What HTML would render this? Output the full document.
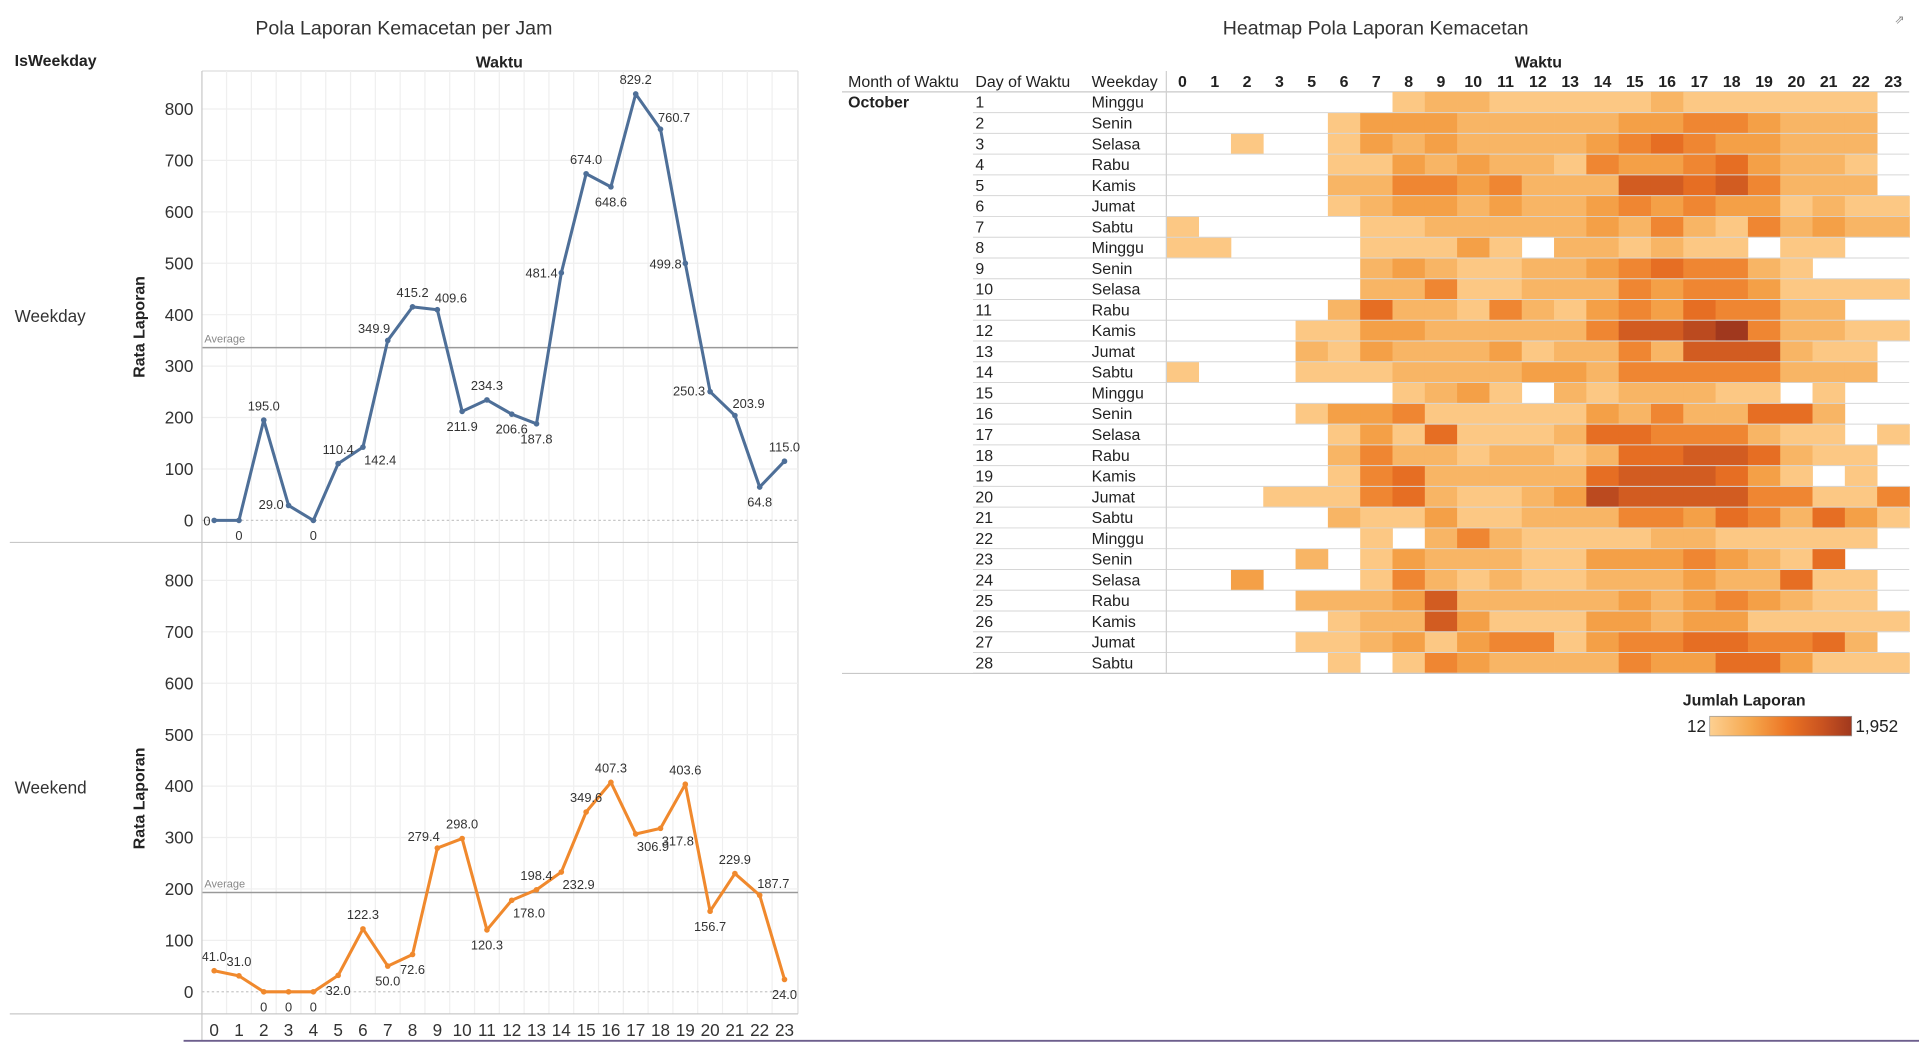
<!DOCTYPE html>
<html><head><meta charset="utf-8">
<style>
html,body{margin:0;padding:0;background:#fff;overflow:hidden}
svg{display:block;font-family:"Liberation Sans",sans-serif}
</style></head>
<body>
<svg id="root" width="1919" height="1042" viewBox="0 0 1568 851" preserveAspectRatio="none" xmlns="http://www.w3.org/2000/svg">
<g id="line"></g>
<g id="heat"></g>
</svg>
<script>
// ---------- line chart data ----------
const hours = [0,1,2,3,4,5,6,7,8,9,10,11,12,13,14,15,16,17,18,19,20,21,22,23];
const weekdayVals = [0,0,195.0,29.0,0,110.4,142.4,349.9,415.2,409.6,211.9,234.3,206.6,187.8,481.4,674.0,648.6,829.2,760.7,499.8,250.3,203.9,64.8,115.0];
const weekendVals = [41.0,31.0,0,0,0,32.0,122.3,50.0,72.6,279.4,298.0,120.3,178.0,198.4,232.9,349.6,407.3,306.9,317.8,403.6,156.7,229.9,187.7,24.0];
const weekdayLabelPos = ['l','b','a','bl','b','a','br','al','a','ar','b','a','b','b','l','a','b','a','ar','l','bl','ar','b','a'];
const weekendLabelPos = ['a','a','b','b','b','b','a','b','b','al','a','b','br','a','br','a','a','br','br','a','b','a','ar','b'];
const yTicks = [0,100,200,300,400,500,600,700,800];
const weekdayAvg = 336;
const weekendAvg = 193;

// ---------- heatmap data ----------
const hmHours = [0,1,2,3,5,6,7,8,9,10,11,12,13,14,15,16,17,18,19,20,21,22,23];
const hmDays = [1,2,3,4,5,6,7,8,9,10,11,12,13,14,15,16,17,18,19,20,21,22,23,24,25,26,27,28];
const hmWeekdays = ['Minggu','Senin','Selasa','Rabu','Kamis','Jumat','Sabtu','Minggu','Senin','Selasa','Rabu','Kamis','Jumat','Sabtu','Minggu','Senin','Selasa','Rabu','Kamis','Jumat','Sabtu','Minggu','Senin','Selasa','Rabu','Kamis','Jumat','Sabtu'];
// intensity levels (0 = no data, 1..8 light..dark)
const hmLevels = [
[0,0,0,0,0,0,0,1,2,2,1,1,1,1,1,2,1,1,1,1,1,1,0],
[0,0,0,0,0,1,3,3,3,2,2,2,2,2,3,3,4,4,3,2,2,2,0],
[0,0,1,0,0,1,3,2,3,2,2,2,2,3,4,5,4,3,3,2,2,2,0],
[0,0,0,0,0,1,1,3,2,3,2,2,1,4,3,3,4,5,3,2,2,1,0],
[0,0,0,0,0,2,2,4,4,3,4,2,2,2,6,6,5,6,4,2,2,2,0],
[0,0,0,0,0,1,2,3,3,2,3,2,2,3,4,3,4,3,3,1,2,1,1],
[1,0,0,0,0,0,1,1,2,2,2,2,2,3,2,4,2,1,4,2,3,2,2],
[1,1,0,0,0,0,1,1,1,3,1,0,2,2,1,2,1,1,0,1,1,0,0],
[0,0,0,0,0,0,2,3,2,1,1,2,2,3,4,5,4,4,2,1,0,0,0],
[0,0,0,0,0,0,2,2,4,1,1,2,2,2,4,3,4,4,3,1,1,1,1],
[0,0,0,0,0,2,5,2,2,1,4,2,1,3,4,3,5,4,4,2,2,0,0],
[0,0,0,0,1,1,3,3,2,2,2,2,2,4,6,6,7,8,4,2,2,1,1],
[0,0,0,0,2,1,3,2,2,2,3,1,2,2,4,2,6,6,6,2,1,1,0],
[1,0,0,0,1,1,1,2,2,2,2,3,3,2,4,4,4,4,4,2,2,2,0],
[0,0,0,0,0,0,0,1,2,3,1,0,2,1,2,2,2,1,1,0,1,0,0],
[0,0,0,0,1,3,3,4,1,1,1,1,1,3,2,4,2,2,5,5,2,0,0],
[0,0,0,0,0,1,3,1,5,1,1,1,2,5,5,4,4,4,2,1,1,0,1],
[0,0,0,0,0,2,4,2,2,1,2,2,1,2,5,5,6,6,5,2,1,1,0],
[0,0,0,0,0,1,4,5,2,2,2,2,2,5,6,6,6,5,3,1,0,1,0],
[0,0,0,1,1,1,4,5,2,1,1,2,3,7,6,6,6,6,4,4,1,1,4],
[0,0,0,0,0,2,1,1,3,1,1,2,2,2,4,4,3,5,4,2,5,3,1],
[0,0,0,0,0,0,1,0,2,4,2,1,1,1,1,2,2,1,1,1,1,1,0],
[0,0,0,0,2,0,1,3,2,2,2,1,1,3,3,3,4,3,2,1,5,0,0],
[0,0,3,0,0,0,1,4,2,1,2,1,1,2,2,2,3,2,2,5,1,1,0],
[0,0,0,0,2,2,2,3,6,2,2,2,2,2,3,2,3,4,3,2,1,1,0],
[0,0,0,0,0,1,2,2,6,3,1,1,1,3,3,2,3,3,1,1,1,1,1],
[0,0,0,0,1,1,2,3,1,3,4,4,1,3,4,4,5,5,4,4,5,2,0],
[0,0,0,0,0,1,0,1,4,3,2,2,2,2,4,3,3,5,5,3,1,1,1]
];
const legendMin = 12, legendMax = 1952;

const NS = 'http://www.w3.org/2000/svg';
function mk(parent, tag, attrs, text){
  const e = document.createElementNS(NS, tag);
  for (const k in attrs) e.setAttribute(k, attrs[k]);
  if (text !== undefined) e.textContent = text;
  parent.appendChild(e);
  return e;
}
const root = document.getElementById('root');
const L = document.getElementById('line');
const H = document.getElementById('heat');

// ---------- line chart ----------
let t;
t = mk(L,'text',{x:330,y:28,'text-anchor':'middle','font-size':16,fill:'#333'},'Pola Laporan Kemacetan per Jam');


t = mk(L,'text',{x:12,y:54,'font-size':13,'font-weight':'bold',fill:'#222'},'IsWeekday');


t = mk(L,'text',{x:408,y:55,'text-anchor':'middle','font-size':13,'font-weight':'bold',fill:'#222'},'Waktu');



const plotL = 165, plotR = 652;
const xOf = h => 175 + h * (641 - 175) / 23;
const step = (641 - 175) / 23;
const yScale = 0.42;

mk(L,'line',{x1:plotL,y1:58,x2:plotR,y2:58,stroke:'#ddd'});
mk(L,'line',{x1:plotR,y1:58,x2:plotR,y2:828,stroke:'#ddd'});
hours.forEach(h=>{
  const x = xOf(h) + step/2;
  if (h < 23) mk(L,'line',{x1:x,y1:58,x2:x,y2:828,stroke:'#efefef'});
});

function pane(vals, posArr, base, avg, color, name, rowLabel){
  const g = mk(L,'g',{});
  
  
  const y = v => base - v * yScale;
  yTicks.forEach(v=>{
    if (v > 0) mk(g,'line',{x1:plotL,y1:y(v),x2:plotR,y2:y(v),stroke:'#efefef'});
    const tt = mk(g,'text',{x:158,y:y(v)+5,'text-anchor':'end','font-size':14,fill:'#333'}, String(v));
    
    
  });
  mk(g,'line',{x1:plotL,y1:base,x2:plotR,y2:base,stroke:'#c8c8c8','stroke-dasharray':'2,2'});
  const ay = y(avg);
  const al = mk(g,'line',{x1:plotL,y1:ay,x2:plotR,y2:ay,stroke:'#999','stroke-width':1.2});
  
  
  mk(g,'text',{x:167,y:ay-4,'font-size':9,fill:'#888'},'Average');
  const cy = base - 400*yScale + 10;
  const yt = mk(g,'text',{x:118,y:cy,'text-anchor':'middle','font-size':13,'font-weight':'bold',fill:'#222',transform:`rotate(-90 118 ${cy})`},'Rata Laporan');
  
  
  const rl = mk(g,'text',{x:12,y:cy-4,'font-size':14,fill:'#333'},rowLabel);
  
  
  const pts = vals.map((v,i)=>`${xOf(hours[i])},${y(v)}`).join(' ');
  const pl = mk(g,'polyline',{points:pts,fill:'none',stroke:color,'stroke-width':2.5,'stroke-linejoin':'round'});
  
  
  vals.forEach((v,i)=>{
    const px = xOf(hours[i]), py = y(v);
    const c = mk(g,'circle',{cx:px,cy:py,r:2.3,fill:color});
    
    
    const p = posArr[i];
    let lx = px, ly = py - 8, anc = 'middle';
    if (p==='b'){ly = py+16;}
    if (p==='bl'){ly = py+3; lx = px-4; anc='end';}
    if (p==='br'){ly = py+14; lx = px+1; anc='start';}
    if (p==='al'){ly = py-6; lx = px+2; anc='end';}
    if (p==='ar'){ly = py-6; lx = px-2; anc='start';}
    if (p==='l'){ly = py+4; lx = px-3; anc='end';}
    const lab = (v===0) ? '0' : v.toFixed(1);
    const tl = mk(g,'text',{x:lx,y:ly,'text-anchor':anc,'font-size':10.5,fill:'#333'},lab);
    
    
  });
}
pane(weekdayVals, weekdayLabelPos, 425, weekdayAvg, '#4e6f98', 'weekday-pane', 'Weekday');
pane(weekendVals, weekendLabelPos, 810, weekendAvg, '#f0892d', 'weekend-pane', 'Weekend');

mk(L,'line',{x1:plotL,y1:58,x2:plotL,y2:850,stroke:'#c8c8c8'});
mk(L,'line',{x1:8,y1:443,x2:plotR,y2:443,stroke:'#c8c8c8'});
mk(L,'line',{x1:8,y1:828,x2:plotR,y2:828,stroke:'#c8c8c8'});
hours.forEach(h=>{
  const tl = mk(L,'text',{x:xOf(h),y:846,'text-anchor':'middle','font-size':14,fill:'#333'},String(h));
  
  
});

// ---------- heatmap ----------
t = mk(H,'text',{x:1124,y:28,'text-anchor':'middle','font-size':16,fill:'#333'},'Heatmap Pola Laporan Kemacetan');


t = mk(H,'text',{x:1257,y:55,'text-anchor':'middle','font-size':13,'font-weight':'bold',fill:'#222'},'Waktu');


[['Month of Waktu',693],['Day of Waktu',797],['Weekday',892]].forEach(([s,x])=>{
  const e = mk(H,'text',{x:x,y:71,'font-size':13,fill:'#222'},s);
  
  
});
const cx0 = 953, cw = 26.4, ry0 = 75, rh = 16.96;
hmHours.forEach((h,i)=>{
  const e = mk(H,'text',{x:cx0+cw*i+cw/2,y:71,'text-anchor':'middle','font-size':13,'font-weight':'bold',fill:'#222'},String(h));
  
  
});
mk(H,'line',{x1:688,y1:75,x2:1560,y2:75,stroke:'#c8c8c8'});
const stops = [[0,[253,208,145]],[0.3,[245,165,75]],[0.55,[236,116,36]],[0.8,[200,82,32]],[1,[160,56,30]]];
function colorFor(v){
  const f = Math.max(0,Math.min(1,(v-legendMin)/(legendMax-legendMin)));
  for (let i=1;i<stops.length;i++){
    if (f<=stops[i][0]){
      const a=stops[i-1],b=stops[i],k=(f-a[0])/(b[0]-a[0]);
      const c=a[1].map((q,j)=>Math.round(q+(b[1][j]-q)*k));
      return `rgb(${c[0]},${c[1]},${c[2]})`;
    }
  }
  return 'rgb(160,56,30)';
}
const levelToCount = lv => legendMin + (lv-0.6)/7.4*(legendMax-legendMin);
hmDays.forEach((d,r)=>{
  const y = ry0 + r*rh;
  hmLevels[r].forEach((lv,c)=>{
    if (lv<=0) return;
    const rc = mk(H,'rect',{x:cx0+c*cw,y:y,width:cw+0.3,height:rh+0.3,fill:colorFor(levelToCount(lv))});
    
    
  });
  const dt = mk(H,'text',{x:797,y:y+13,'font-size':13,fill:'#222'},String(d));
  
  
  const wt = mk(H,'text',{x:892,y:y+13,'font-size':13,fill:'#222'},hmWeekdays[r]);
  
  
});
hmDays.forEach((d,r)=>{
  const y = ry0 + (r+1)*rh;
  mk(H,'line',{x1:795,y1:y,x2:1560,y2:y,stroke:'#d6d6d6','stroke-width':0.8});
});
mk(H,'line',{x1:688,y1:550,x2:1560,y2:550,stroke:'#c8c8c8'});
mk(H,'line',{x1:953,y1:58,x2:953,y2:550,stroke:'#d0d0d0'});
t = mk(H,'text',{x:693,y:88,'font-size':13,'font-weight':'bold',fill:'#222'},'October');



// legend
const lg = mk(H,'g',{});


mk(lg,'text',{x:1375,y:576,'font-size':13,'font-weight':'bold',fill:'#222'},'Jumlah Laporan');
mk(lg,'text',{x:1394,y:598,'text-anchor':'end','font-size':14,fill:'#222'},String(legendMin));
mk(lg,'text',{x:1516,y:598,'font-size':14,fill:'#222'},legendMax.toLocaleString('en-US'));
const defs = mk(root,'defs',{});
const gr = mk(defs,'linearGradient',{id:'lgGrad',x1:0,x2:1,y1:0,y2:0});
stops.forEach(s=>mk(gr,'stop',{offset:s[0],'stop-color':`rgb(${s[1].join(',')})`}));
mk(lg,'rect',{x:1397,y:585,width:116,height:16,fill:'url(#lgGrad)',stroke:'#999','stroke-width':0.6});

// external link icon & bottom line
const ic = mk(root,'text',{x:1548,y:19,'font-size':10,fill:'#888'},'⇗');


mk(root,'line',{x1:150,y1:850,x2:1568,y2:850,stroke:'#6d5f8d','stroke-width':1.5});
</script>
</body></html>
